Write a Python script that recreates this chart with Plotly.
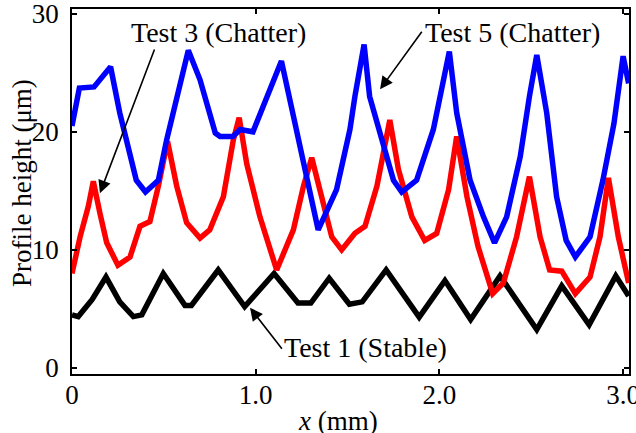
import plotly.graph_objects as go

# Surface profile traces (x in mm, height in micrometres)
test5_x = [0.0, 0.04, 0.12, 0.21, 0.26, 0.306, 0.35, 0.40, 0.47, 0.515, 0.57, 0.633,
           0.697, 0.78, 0.806, 0.876, 0.915, 0.985, 1.14, 1.34, 1.44, 1.513, 1.54,
           1.59, 1.62, 1.695, 1.75, 1.795, 1.876, 1.967, 2.02, 2.054, 2.094, 2.167,
           2.24, 2.30, 2.366, 2.44, 2.49, 2.53, 2.584, 2.638, 2.69, 2.74, 2.82,
           2.89, 2.95, 3.0, 3.03]
test5_y = [20.5, 23.7, 23.8, 25.5, 21.6, 18.8, 15.9, 14.9, 15.9, 19.3, 23.0, 26.9,
           24.4, 19.9, 19.6, 19.6, 20.2, 20.0, 26.0, 11.7, 15.1, 20.2, 23.0,
           27.4, 23.0, 18.8, 15.9, 14.9, 15.9, 20.2, 24.4, 26.8, 21.6, 15.9,
           12.8, 10.6, 12.8, 17.9, 23.0, 26.5, 21.6, 14.5, 10.8, 9.4, 11.1,
           15.9, 20.7, 26.4, 24.1]

test3_x = [0.0, 0.044, 0.089, 0.116, 0.152, 0.189, 0.25, 0.316, 0.37, 0.424, 0.47,
           0.52, 0.57, 0.624, 0.697, 0.75, 0.824, 0.878, 0.91, 0.951, 1.023, 1.114,
           1.205, 1.26, 1.305, 1.368, 1.414, 1.468, 1.54, 1.595, 1.66, 1.695, 1.73,
           1.777, 1.85, 1.92, 1.985, 2.05, 2.094, 2.15, 2.21, 2.29, 2.348, 2.42,
           2.466, 2.49, 2.548, 2.60, 2.666, 2.74, 2.82, 2.874, 2.92, 2.974, 3.03]
test3_y = [8.0, 11.1, 13.7, 15.8, 13.1, 10.6, 8.7, 9.4, 12.0, 12.4, 15.4,
           19.2, 15.4, 12.3, 11.0, 11.7, 14.5, 19.3, 21.2, 17.3, 12.8, 8.3,
           11.7, 15.4, 17.8, 13.7, 11.1, 10.0, 11.4, 12.0, 15.4, 18.2, 21.0,
           16.8, 12.8, 10.8, 11.4, 15.1, 19.6, 14.5, 10.3, 6.3, 7.2, 11.1,
           14.5, 16.2, 11.1, 8.3, 8.2, 6.3, 7.7, 11.1, 16.1, 11.1, 7.2]

test1_x = [0.0, 0.034, 0.11, 0.185, 0.26, 0.334, 0.38, 0.497, 0.615, 0.65, 0.796,
           0.94, 1.10, 1.23, 1.30, 1.40, 1.51, 1.58, 1.71, 1.89, 2.03, 2.17, 2.33,
           2.53, 2.666, 2.815, 2.96, 3.03]
test1_y = [4.5, 4.35, 5.8, 7.7, 5.6, 4.35, 4.5, 8.0, 5.3, 5.3, 8.3,
           5.2, 8.0, 5.5, 5.5, 7.6, 5.4, 5.6, 8.3, 4.3, 7.4, 4.1, 7.8,
           3.25, 6.95, 3.65, 7.8, 6.1]

x_ticks = [0, 1.0, 2.0, 3.0]
x_tick_text = ["0", "1.0", "2.0", "3.0"]
y_ticks = [0, 10, 20, 30]

FONT = "Liberation Serif"

fig = go.Figure()
for xs, ys, col in [(test1_x, test1_y, "#000000"),
                    (test3_x, test3_y, "#ff0000"),
                    (test5_x, test5_y, "#0000ff")]:
    fig.add_trace(go.Scatter(x=xs, y=ys, mode="lines",
                             line=dict(color=col, width=5.5),
                             showlegend=False))

# Labels and their pointer arrows
labels = [("Test 3 (Chatter)", 0.80, 28.4),
          ("Test 5 (Chatter)", 2.40, 28.4),
          ("Test 1 (Stable)", 1.595, 1.7)]
for txt, lx, ly in labels:
    fig.add_annotation(x=lx, y=ly, text=txt, showarrow=False,
                       font=dict(family=FONT, size=28, color="black"),
                       xanchor="center", yanchor="middle")

arrows = [((0.452, 27.1), (0.152, 14.8)),
          ((1.91, 28.6), (1.677, 23.6)),
          ((1.149, 1.5), (0.969, 5.1))]
for (tx, ty), (hx, hy) in arrows:
    fig.add_annotation(x=hx, y=hy, ax=tx, ay=ty, axref="x", ayref="y",
                       text="", showarrow=True, arrowhead=2, arrowsize=1.6,
                       arrowwidth=1.6, arrowcolor="black", standoff=0)

# Axis titles placed in paper coordinates
fig.add_annotation(xref="paper", yref="paper", x=-0.0898, y=0.523,
                   text="Profile height (μm)", textangle=-90, showarrow=False,
                   xanchor="center", yanchor="middle",
                   font=dict(family=FONT, size=27, color="black"))
fig.add_annotation(xref="paper", yref="paper", x=0.4776, y=-0.128,
                   text="<i>x</i> (mm)", showarrow=False,
                   xanchor="center", yanchor="middle",
                   font=dict(family=FONT, size=27, color="black"))

axis_common = dict(showline=True, linecolor="black", linewidth=1.5,
                   mirror="ticks", ticks="inside", ticklen=5, tickwidth=2,
                   tickcolor="black", showgrid=False, zeroline=False,
                   ticklabeloverflow="allow", automargin=False,
                   tickfont=dict(family=FONT, size=27, color="black"))

fig.update_xaxes(range=[0, 3.032], tickvals=x_ticks, ticktext=x_tick_text,
                 ticklabelstandoff=-4, **axis_common)
fig.update_yaxes(range=[-0.51, 30.4], tickvals=y_ticks,
                 ticklabelstandoff=6, **axis_common)

fig.update_layout(width=636, height=433,
                  margin=dict(l=72, r=7, t=9, b=59),
                  plot_bgcolor="white", paper_bgcolor="white")

fig.write_html("out.html")
